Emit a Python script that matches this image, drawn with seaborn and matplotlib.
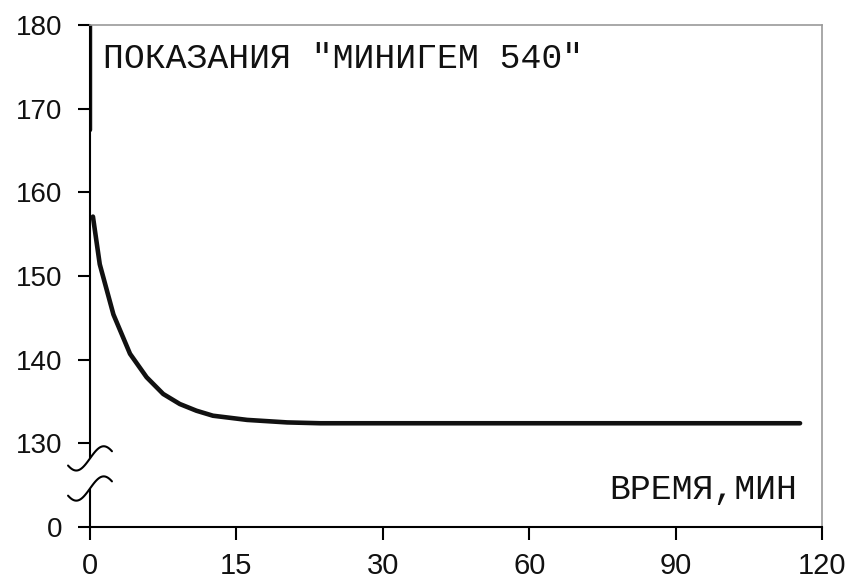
import numpy as np
import matplotlib
matplotlib.use("Agg")
import matplotlib.pyplot as plt
import seaborn as sns

# =========================================
# DATA
# =========================================

tick_minutes = [0, 15, 30, 60, 90, 120]
tick_labels = ["0", "15", "30", "60", "90", "120"]

y_ticks = [120, 130, 140, 150, 160, 170, 180]
y_labels = ["0", "130", "140", "150", "160", "170", "180"]

# start spike at t = 0
spike_t = [0, 0]
spike_v = [180, 167.4]

# readings of the device
time_min = [0.3, 1.0, 2.4, 4.1, 5.8, 7.5, 9.2, 10.9, 12.6, 16.1, 20.2, 23.6, 115.5]
readings = [157.1, 151.4, 145.4, 140.7, 137.9, 135.9, 134.7, 133.9, 133.3,
            132.8, 132.5, 132.4, 132.4]

title_text = 'ПОКАЗАНИЯ "МИНИГЕМ 540"'
xlabel_text = "ВРЕМЯ,МИН"

# =========================================
# STYLE
# =========================================

sns.set_style("white")
plt.rcParams["font.family"] = ["Liberation Sans", "DejaVu Sans"]

# x axis is not linear: every tick gets the same width
def to_pos(t):
    return np.interp(t, tick_minutes, np.arange(len(tick_minutes)))

fig = plt.figure(figsize=(8.46, 5.84), dpi=100)
ax = fig.add_axes([90 / 846, 57 / 584, 732 / 846, 502 / 584])

sns.lineplot(x=to_pos(spike_t), y=spike_v, ax=ax, color="#111111",
             linewidth=3.2, sort=False, estimator=None)
sns.lineplot(x=to_pos(time_min), y=readings, ax=ax, color="#111111",
             linewidth=3.3, sort=False, estimator=None)

ax.set_xlim(0, 5)
ax.set_ylim(120, 180)
ax.set_xticks(np.arange(len(tick_minutes)))
ax.set_xticklabels(tick_labels)
ax.set_yticks(y_ticks)
ax.set_yticklabels(y_labels)
ax.tick_params(axis="both", direction="out", length=9, width=1.5,
               color="black", labelcolor="#111111",
               bottom=True, left=True)
ax.tick_params(axis="x", pad=9, labelsize=21)
ax.tick_params(axis="y", pad=11, labelsize=20)
for lab in ax.get_xticklabels():
    lab.set_family(["Liberation Sans Narrow", "Liberation Sans"])
ax.set_xlabel("")
ax.set_ylabel("")

for side in ["top", "right"]:
    ax.spines[side].set_color("#9a9a9a")
    ax.spines[side].set_linewidth(1.2)
for side in ["left", "bottom"]:
    ax.spines[side].set_color("black")
    ax.spines[side].set_linewidth(1.5)

# left spine is broken between 130 and 0
ax.spines["left"].set_visible(False)
ax.plot([0, 0], [120, 124.6], color="black", lw=1.5, clip_on=False)
ax.plot([0, 0], [128.2, 180], color="black", lw=1.5, clip_on=False)

u = np.linspace(-1, 1, 60)
wx = 0.15 * u
wy = 1.45 * np.sin(0.8 * np.pi * u)
for yc in [128.2, 124.6]:
    ax.plot(wx, yc + wy, color="black", lw=1.5, clip_on=False)

ax.text(0.018, 0.933, title_text, transform=ax.transAxes, ha="left",
        va="center", fontsize=25, family=["Liberation Mono", "DejaVu Sans Mono"],
        color="#111111")
ax.text(0.966, 0.075, xlabel_text, transform=ax.transAxes, ha="right",
        va="center", fontsize=25, family=["Liberation Mono", "DejaVu Sans Mono"],
        color="#111111")

fig.savefig("out.png", dpi=100)
